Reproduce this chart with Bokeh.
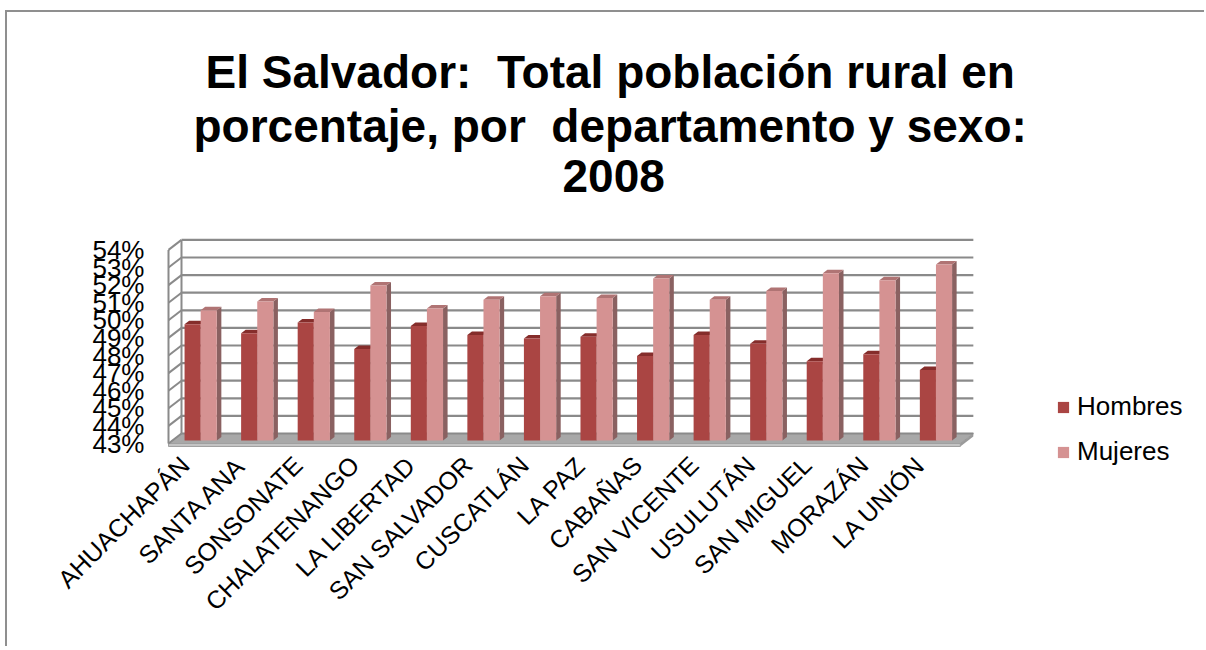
import math
from bokeh.plotting import figure
from bokeh.models import (Range1d, FixedTicker, PrintfTickFormatter, Legend,
                          LegendItem, LinearAxis, Title)
from bokeh.embed import file_html
from bokeh.resources import INLINE

# ---------------- data ----------------
departamentos = ["AHUACHAPÁN", "SANTA ANA", "SONSONATE", "CHALATENANGO",
                 "LA LIBERTAD", "SAN SALVADOR", "CUSCATLÁN", "LA PAZ",
                 "CABAÑAS", "SAN VICENTE", "USULUTÁN", "SAN MIGUEL",
                 "MORAZÁN", "LA UNIÓN"]
hombres = [49.6, 49.1, 49.7, 48.2, 49.5, 49.0, 48.8, 48.9, 47.8, 49.0, 48.5, 47.5, 47.9, 47.0]
mujeres = [50.4, 50.9, 50.3, 51.8, 50.5, 51.0, 51.2, 51.1, 52.2, 51.0, 51.5, 52.5, 52.1, 53.0]
y_ticks = [43, 44, 45, 46, 47, 48, 49, 50, 51, 52, 53, 54]
series_names = ["Hombres", "Mujeres"]
title_lines = ["El Salvador:\u00a0 Total población rural en",
               "porcentaje, por\u00a0 departamento y sexo:",
               "2008"]

# ---------------- layout constants ----------------
FONT = "Liberation Sans"
PX_CAT = 56.56          # pixels per category
PX_PCT = 17.6           # pixels per percent
DX = 13.0 / PX_CAT      # 3-D depth offset (x, data units)
DY = 10.0 / PX_PCT      # 3-D depth offset (y, data units)
BASE = y_ticks[0]
TOP = y_ticks[-1]
n = len(departamentos)
W_BAR = 0.285
F_FRONT, F_BACK = 0.30, 0.65
LABEL_SHIFT = 0.21      # category labels sit a little left of the bars

ORG_X, ORG_Y = 7, 12    # canvas origin on the page (margin + border)
W_FIG, H_FIG = 1199, 636
FRAME_L, FRAME_T, FRAME_B = 160, 197, 470     # page pixels
X_FLOOR_L = 168          # page x of the front-left floor corner
Y_BASE = 443             # page y of the 43% level (front)
MB_L = FRAME_L - ORG_X
MB_T = FRAME_T - ORG_Y
MB_B = H_FIG - (FRAME_B - ORG_Y)
FRAME_W = W_FIG - MB_L
FRAME_H = FRAME_B - FRAME_T
x0 = -0.5 - (X_FLOOR_L - FRAME_L) / PX_CAT
x1 = x0 + FRAME_W / PX_CAT
y0 = BASE - (FRAME_B - Y_BASE) / PX_PCT
y1 = y0 + FRAME_H / PX_PCT

p = figure(width=W_FIG, height=H_FIG,
           x_range=Range1d(x0, x1), y_range=Range1d(y0, y1),
           x_axis_location=None,
           output_backend="svg", toolbar_location=None,
           min_border_left=MB_L, min_border_right=0,
           min_border_top=MB_T, min_border_bottom=MB_B)
p.extra_x_ranges = {"labels": Range1d(x0 + LABEL_SHIFT, x1 + LABEL_SHIFT)}
p.outline_line_color = None
p.grid.visible = False
p.background_fill_color = "white"
p.border_fill_color = "white"
p.styles = {"margin-left": "5px", "margin-top": "10px",
            "border-left": "2px solid #8f8f8f", "border-top": "2px solid #8f8f8f"}

# title: three lines, each placed about the chart's centre (x = 610 on the page)
TITLE_PX = 46
title_left = [205, 193, 562]      # page x of each line's left edge
title_standoff = [0, 0, 12]

def style_title(t, k):
    t.align = "left"
    t.offset = title_left[k] - FRAME_L
    t.text_font = FONT
    t.text_font_size = f"{TITLE_PX}px"
    t.text_font_style = "bold"
    t.text_color = "black"
    t.standoff = title_standoff[k]

p.title.text = title_lines[0]            # figure title is the outermost
style_title(p.title, 0)
for k in [2, 1]:                          # first added sits nearest the frame
    t = Title(text=title_lines[k])
    style_title(t, k)
    p.add_layout(t, "above")

# ---------------- walls / gridlines ----------------
xl_f, xr_f = -0.5, n - 0.5
xl_b, xr_b = xl_f + DX, xr_f + DX
GRID = "#8a8a8a"

# floor
p.patch([xl_f, xr_f, xr_b, xl_b], [BASE, BASE, BASE + DY, BASE + DY],
        fill_color="#a8a8a8", line_color="#9a9a9a", line_width=1)
p.quad(left=[xl_f], right=[xr_f], top=[BASE], bottom=[BASE - 0.17],
       fill_color="#c4c4c4", line_color="#a0a0a0", line_width=1)
p.patch([xr_f, xr_b, xr_b, xr_f], [BASE, BASE + DY, BASE + DY - 0.17, BASE - 0.17],
        fill_color="#9a9a9a", line_color=None)

# back wall horizontal gridlines
p.segment(x0=[xl_b] * len(y_ticks), y0=[t + DY for t in y_ticks],
          x1=[xr_b] * len(y_ticks), y1=[t + DY for t in y_ticks],
          line_color=GRID, line_width=2.2)
# side wall slanted gridlines
p.segment(x0=[xl_f] * len(y_ticks), y0=y_ticks,
          x1=[xl_b] * len(y_ticks), y1=[t + DY for t in y_ticks],
          line_color=GRID, line_width=2)
# verticals of side wall
p.segment(x0=[xl_f, xl_b], y0=[BASE, BASE + DY], x1=[xl_f, xl_b], y1=[TOP, TOP + DY],
          line_color=GRID, line_width=2)

# ---------------- bars ----------------
def bar_faces(values, offset):
    fx, fy = F_FRONT * DX, F_FRONT * DY
    bx, by = F_BACK * DX, F_BACK * DY
    L, R, T, B = [], [], [], []
    tops_x, tops_y, side_x, side_y = [], [], [], []
    for i, v in enumerate(values):
        l = i + offset + fx
        r = l + W_BAR
        L.append(l); R.append(r); T.append(v + fy); B.append(BASE + fy)
        tops_x.append([l, r, r - fx + bx, l - fx + bx])
        tops_y.append([v + fy, v + fy, v + by, v + by])
        side_x.append([r, r - fx + bx, r - fx + bx, r])
        side_y.append([BASE + fy, BASE + by, v + by, v + fy])
    return L, R, T, B, tops_x, tops_y, side_x, side_y

colors = {
    "Hombres": ("#aa4543", "#852d2b", "#7a3533"),
    "Mujeres": ("#d59292", "#b07474", "#8a6161"),
}
renderers = {}
for name, vals, off in [("Hombres", hombres, -W_BAR), ("Mujeres", mujeres, 0.0)]:
    front, top, side = colors[name]
    L, R, T, B, tx, ty, sx, sy = bar_faces(vals, off)
    p.patches(sx, sy, fill_color=side, line_color=None)
    p.patches(tx, ty, fill_color=top, line_color=None)
    renderers[name] = p.quad(left=L, right=R, top=T, bottom=B,
                             fill_color=front, line_color=None)

# ---------------- axes ----------------
p.yaxis.ticker = FixedTicker(ticks=y_ticks)
p.yaxis.formatter = PrintfTickFormatter(format="%d%%")
p.yaxis.axis_line_color = None
p.yaxis.major_tick_line_color = None
p.yaxis.minor_tick_line_color = None
p.yaxis.major_tick_out = 0
p.yaxis.major_tick_in = 0
p.yaxis.major_label_standoff = 16
p.yaxis.major_label_text_font = FONT
p.yaxis.major_label_text_font_size = "26px"
p.yaxis.major_label_text_color = "black"

xaxis = LinearAxis(x_range_name="labels",
                   ticker=FixedTicker(ticks=list(range(n))),
                   major_label_overrides={i: d for i, d in enumerate(departamentos)},
                   major_label_orientation=math.pi / 4,
                   axis_line_color=None, major_tick_line_color=None,
                   minor_tick_line_color=None, major_tick_out=0, major_tick_in=0,
                   major_label_standoff=-10, major_label_text_font=FONT,
                   major_label_text_font_size="25px", major_label_text_color="black")
p.add_layout(xaxis, "below")

# ---------------- legend (inside the frame, right of the walls) ----------------
legend = Legend(items=[LegendItem(label=s, renderers=[renderers[s]]) for s in series_names],
                location=(1056 - FRAME_L, FRAME_B - 467), orientation="vertical",
                glyph_width=14, glyph_height=14, label_height=30, spacing=14,
                label_standoff=7, padding=0, margin=0,
                border_line_color=None, background_fill_alpha=0,
                label_text_font=FONT, label_text_font_size="26px",
                label_text_color="black")
p.add_layout(legend)

open("out.html", "w").write(file_html(p, INLINE))
